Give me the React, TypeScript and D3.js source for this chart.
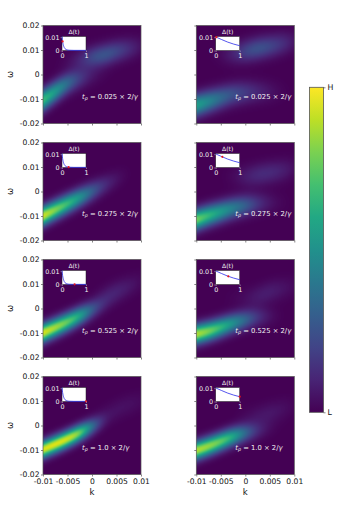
import { useEffect, useRef } from "react";
import * as d3 from "d3";

const kNodes = [-0.01, -0.0075, -0.005, -0.0025, 0, 0.0025, 0.005, 0.0075, 0.01];

// panel order: left column rows 1-4, then right column rows 1-4 (omega in units of 1e-3)
const lowerOmega = [
  [-10.5, -7, -3.5, -1.5, 0, 1, 2, 3, 4],
  [-10, -7.5, -5, -2.5, 0, 2.5, 5, 7, 9],
  [-10, -7.8, -5.5, -3, -0.5, 2, 4.5, 7, 9],
  [-9.8, -7.7, -5.5, -3, -0.5, 2, 4.5, 7, 9],
  [-12.5, -11, -9.5, -8, -7.3, -7, -7, -7, -7],
  [-11.5, -9.8, -8.3, -6.8, -5.7, -5, -4.5, -4.5, -4.5],
  [-10.5, -9.3, -7.7, -6, -4.6, -3.5, -3, -3, -3],
  [-10.2, -8.5, -6.5, -4.5, -3, -2, -1, 0, 1],
];
const lowerPeak = [
  [0.68, 0.54, 0.34, 0.16, 0.05, 0.01, 0, 0, 0],
  [0.93, 0.8, 0.68, 0.52, 0.28, 0.12, 0.04, 0, 0],
  [0.94, 0.86, 0.76, 0.6, 0.26, 0.07, 0.01, 0, 0],
  [0.94, 0.96, 0.93, 0.82, 0.34, 0.04, 0, 0, 0],
  [0.56, 0.46, 0.33, 0.24, 0.17, 0.1, 0.05, 0.01, 0],
  [0.78, 0.66, 0.54, 0.42, 0.3, 0.14, 0.05, 0.01, 0],
  [0.88, 0.8, 0.66, 0.5, 0.32, 0.14, 0.04, 0, 0],
  [0.88, 0.84, 0.76, 0.61, 0.32, 0.1, 0.02, 0, 0],
];
const upperOmega = [
  [3, 4, 5, 6, 7, 8, 9.5, 10.5, 11.5],
  [3, 3, 3, 3, 3, 5, 7, 9, 11],
  [3, 3, 3, 3, 3, 5, 7, 9, 11],
  [3, 3, 3, 3, 3, 4.5, 6.5, 8.5, 10],
  [8, 8, 8.2, 8.6, 9.5, 10.6, 11.5, 12.5, 13.5],
  [6, 6, 6, 6, 6, 6.8, 7.7, 8.5, 9.5],
  [4, 4, 4, 4, 4, 4.8, 6.8, 8, 9],
  [3, 3, 3, 3, 3, 3.5, 5, 6.5, 8],
];
const upperPeak = [
  [0, 0, 0.02, 0.09, 0.22, 0.27, 0.21, 0.12, 0.04],
  [0, 0, 0, 0, 0, 0, 0, 0, 0],
  [0, 0, 0, 0, 0, 0.06, 0.09, 0.06, 0.02],
  [0, 0, 0, 0, 0, 0.02, 0.04, 0.04, 0.02],
  [0, 0, 0.02, 0.09, 0.2, 0.26, 0.21, 0.14, 0.05],
  [0, 0, 0, 0.02, 0.07, 0.12, 0.12, 0.09, 0.03],
  [0, 0, 0, 0.01, 0.03, 0.07, 0.08, 0.05, 0.02],
  [0, 0, 0, 0, 0.02, 0.05, 0.06, 0.04, 0.01],
];
const bandWidth = [3.0, 2.7, 2.6, 2.4, 3.1, 2.9, 2.7, 2.6];
const upperWidth = [3.0, 3.0, 3.0, 3.0, 3.1, 3.1, 3.1, 3.1];

const xTicks = [-0.01, -0.005, 0, 0.005, 0.01];
const xTickLabels = ["-0.01", "-0.005", "0", "0.005", "0.01"];
const yTicks = [-0.02, -0.01, 0, 0.01, 0.02];
const yTickLabels = ["-0.02", "-0.01", "0", "0.01", "0.02"];

const tpLabels = ["0.025", "0.275", "0.525", "1.0"];
const tpValues = [0.025, 0.275, 0.525, 1];

// gap curves in the insets
const tLeft = [0, 0.025, 0.05, 0.1, 0.15, 0.2, 0.3, 0.5, 1];
const gapLeft = [0.0105, 0.0068, 0.0045, 0.002, 0.001, 0.0005, 0.0002, 0.0001, 0.0001];
const tRight = [0, 0.25, 0.5, 0.75, 1];
const gapRight = [0.0102, 0.0082, 0.0063, 0.0048, 0.0036];

const colX = [43, 196.3];
const rowY = [25.5, 142.5, 259.5, 376.5];
const size = 98;
const font = "'DejaVu Sans', sans-serif";

function band(t: number, centres: number[], peaks: number[], w: number, omega: number) {
  const c = d3.interpolateBasis(centres)(t);
  const p = Math.max(0, d3.interpolateBasis(peaks)(t));
  return p * Math.exp(-((omega - c) ** 2) / (2 * w * w));
}

// paints one panel into a small canvas, returned as an image for the svg
function heatmap(p: number, x: d3.ScaleLinear<number, number>, y: d3.ScaleLinear<number, number>) {
  const kToT = d3.scaleLinear().domain(d3.extent(kNodes) as [number, number]).range([0, 1]);
  const canvas = document.createElement("canvas");
  canvas.width = size;
  canvas.height = size;
  const ctx = canvas.getContext("2d")!;
  for (let i = 0; i < size; i++) {
    for (let j = 0; j < size; j++) {
      const t = kToT(x.invert(i + 0.5));
      const w = y.invert(j + 0.5) * 1000;
      const v =
        band(t, lowerOmega[p], lowerPeak[p], bandWidth[p], w) +
        band(t, upperOmega[p], upperPeak[p], upperWidth[p], w);
      ctx.fillStyle = d3.interpolateViridis(Math.min(1, v));
      ctx.fillRect(i, j, 1, 1);
    }
  }
  return canvas.toDataURL();
}

export default function App() {
  const ref = useRef<SVGSVGElement | null>(null);

  useEffect(() => {
    const svg = d3.select(ref.current);
    svg.selectAll("*").remove();

    const defs = svg.append("defs");
    const grad = defs
      .append("linearGradient")
      .attr("id", "cbar")
      .attr("x1", 0)
      .attr("x2", 0)
      .attr("y1", 1)
      .attr("y2", 0);
    d3.range(0, 1.01, 0.1).forEach((s) => {
      grad.append("stop").attr("offset", s).attr("stop-color", d3.interpolateViridis(s));
    });

    colX.forEach((px, col) => {
      rowY.forEach((py, row) => {
        const p = col * 4 + row;
        const g = svg.append("g").attr("transform", `translate(${px},${py})`);
        const x = d3.scaleLinear().domain([-0.01, 0.01]).range([0, size]);
        const y = d3.scaleLinear().domain([-0.02, 0.02]).range([size, 0]);

        g.append("image")
          .attr("width", size)
          .attr("height", size)
          .attr("href", heatmap(p, x, y));

        const xAxis = d3
          .axisBottom(x)
          .tickValues(xTicks)
          .tickSize(2)
          .tickPadding(2.6)
          .tickFormat((_, i) => (row === 3 ? xTickLabels[i] : ""));
        const yAxis = d3
          .axisLeft(y)
          .tickValues(yTicks)
          .tickSize(2)
          .tickPadding(1.5)
          .tickFormat((_, i) => (col === 0 ? yTickLabels[i] : ""));
        const ax = g.append("g").attr("transform", `translate(0,${size})`).call(xAxis);
        const ay = g.append("g").call(yAxis);
        [ax, ay].forEach((a) => {
          a.attr("font-family", font).attr("font-size", 7.6);
          a.select(".domain").remove();
          a.selectAll("line").attr("stroke", "#333").attr("stroke-width", 0.6);
          a.selectAll("text").attr("fill", "#111");
        });
        g.append("rect")
          .attr("width", size)
          .attr("height", size)
          .attr("fill", "none")
          .attr("stroke", "#555")
          .attr("stroke-width", 0.7);

        g.append("text")
          .attr("x", 39)
          .attr("y", 73.5)
          .attr("fill", "#f2f2f2")
          .attr("font-family", font)
          .attr("font-size", 6.8)
          .call((s) => {
            s.append("tspan").attr("font-style", "italic").text("t");
            s.append("tspan").attr("font-style", "italic").attr("font-size", 4.8).attr("dy", 1.2).text("p");
            s.append("tspan").attr("dy", -1.2).text(` = ${tpLabels[row]} × 2/`);
            s.append("tspan").attr("font-style", "italic").text("γ");
          });

        // inset with the gap curve
        const ix = col === 0 ? 19 : 19.4;
        const inset = g.append("g").attr("transform", `translate(${ix},11)`);
        const ts = col === 0 ? tLeft : tRight;
        const gap = col === 0 ? gapLeft : gapRight;
        const ox = d3.scaleLinear().domain([0, 1]).range([0, 24]);
        const oy = d3.scaleLinear().domain([0, 0.0105]).range([14, 0]);
        inset
          .append("rect")
          .attr("width", 24)
          .attr("height", 14)
          .attr("fill", "#fff")
          .attr("stroke", "#222")
          .attr("stroke-width", 0.5);
        const line = d3
          .line<number>()
          .x((_, i) => ox(ts[i]))
          .y((d) => oy(d))
          .curve(d3.curveMonotoneX);
        inset
          .append("path")
          .attr("d", line(gap))
          .attr("fill", "none")
          .attr("stroke", "#2a2ae8")
          .attr("stroke-width", 0.8);
        const tp = tpValues[row];
        const hi = d3.bisectLeft(ts, tp);
        const lo = Math.max(0, hi - 1);
        const frac = hi === lo ? 0 : (tp - ts[lo]) / (ts[hi] - ts[lo]);
        inset
          .append("circle")
          .attr("cx", ox(tp))
          .attr("cy", oy(gap[lo] + (gap[hi] - gap[lo]) * frac))
          .attr("r", 1.1)
          .attr("fill", "#e8141c");

        const ixAxis = inset
          .append("g")
          .attr("transform", "translate(0,14)")
          .call(d3.axisBottom(ox).tickValues([0, 1]).tickSize(1.5).tickPadding(1.5).tickFormat((d) => String(d)));
        const iyAxis = inset
          .append("g")
          .call(
            d3
              .axisLeft(oy)
              .tickValues([0, 0.01])
              .tickSize(1.5)
              .tickPadding(1)
              .tickFormat((d) => (d === 0 ? "0" : "0.01"))
          );
        [ixAxis, iyAxis].forEach((a) => {
          a.attr("font-family", font).attr("font-size", 6.4);
          a.select(".domain").remove();
          a.selectAll("line").attr("stroke", "#eee").attr("stroke-width", 0.4);
          a.selectAll("text").attr("fill", "#f2f2f2");
        });
        inset
          .append("text")
          .attr("x", 12)
          .attr("y", -3)
          .attr("text-anchor", "middle")
          .attr("fill", "#f2f2f2")
          .attr("font-family", font)
          .attr("font-size", 6)
          .text("Δ(t)");

        if (col === 0) {
          g.append("text")
            .attr("transform", `translate(-33,${size / 2}) rotate(-90)`)
            .attr("text-anchor", "middle")
            .attr("dy", "0.32em")
            .attr("font-family", font)
            .attr("font-size", 8.5)
            .attr("fill", "#111")
            .text("ω");
        }
        if (row === 3) {
          g.append("text")
            .attr("x", size / 2)
            .attr("y", 118.5)
            .attr("text-anchor", "middle")
            .attr("font-family", font)
            .attr("font-size", 8.5)
            .attr("fill", "#111")
            .text("k");
        }
      });
    });

    // colour bar
    const bar = svg.append("g").attr("transform", "translate(309.5,87.3)");
    const barH = 325;
    bar
      .append("rect")
      .attr("width", 14)
      .attr("height", barH)
      .attr("fill", "url(#cbar)")
      .attr("stroke", "#555")
      .attr("stroke-width", 0.8);
    const level = d3.scaleLinear().domain([0, 1]).range([barH, 0]);
    const barAxis = bar
      .append("g")
      .attr("transform", "translate(14,0)")
      .call(
        d3
          .axisRight(level)
          .tickValues([0, 1])
          .tickSize(2)
          .tickPadding(2)
          .tickFormat((d) => (d === 1 ? "H" : "L"))
      );
    barAxis.attr("font-family", font).attr("font-size", 7.8);
    barAxis.select(".domain").remove();
    barAxis.selectAll("line").attr("stroke", "#333").attr("stroke-width", 0.6);
    barAxis.selectAll("text").attr("fill", "#111");
  }, []);

  return (
    <svg
      ref={ref}
      width={344}
      height={516}
      style={{ position: "absolute", left: 0, top: 0, background: "#fff" }}
    />
  );
}
